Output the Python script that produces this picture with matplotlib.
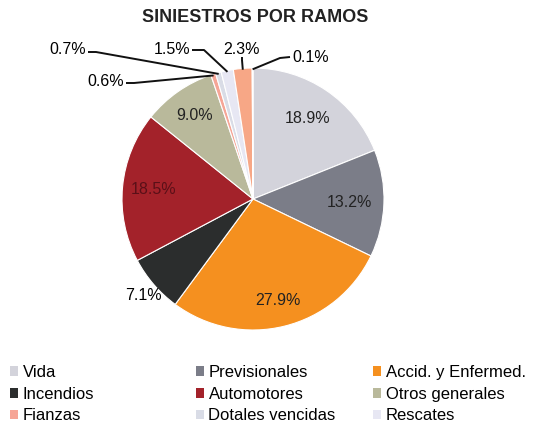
import matplotlib
matplotlib.use("Agg")
import matplotlib.pyplot as plt
from matplotlib.patches import Patch
import numpy as np

plt.rcParams['font.family'] = ['Liberation Sans', 'DejaVu Sans']

categories = ["Vida", "Previsionales", "Accid. y Enfermed.", "Incendios", "Automotores",
              "Otros generales", "Fianzas", "Dotales vencidas", "Rescates", "Otros", "Varios"]
values = [18.9, 13.2, 27.9, 7.1, 18.5, 9.0, 0.6, 0.7, 1.5, 2.3, 0.1]
colors = ["#d3d3db", "#7b7d88", "#f5901f", "#2b2d2d", "#a3222a", "#b9b99b",
          "#f6a596", "#d9dce6", "#e7e7f3", "#f7a786", "#a4a4ac"]
legend_count = 9

W, H = 534, 429
cx, cy, R = 253, 199, 131

fig = plt.figure(figsize=(W / 100, H / 100), dpi=100)
ax = fig.add_axes([(cx - R) / W, (H - cy - R) / H, 2 * R / W, 2 * R / H])

wedges, _ = ax.pie(values, colors=colors, startangle=90, counterclock=False,
                   wedgeprops=dict(edgecolor="white", linewidth=0.8), radius=1)
ax.set_xlim(-1, 1)
ax.set_ylim(-1, 1)
ax.set_aspect("equal")
ax.axis("off")


def px(x, y):
    # pixel position -> data coords of the pie axes
    return (x - cx) / R, (cy - y) / R


def mid_point(w, r=1.0):
    a = np.deg2rad((w.theta1 + w.theta2) / 2)
    return r * np.cos(a), r * np.sin(a)


# inside labels
inside = {0: 0.74, 1: 0.74, 2: 0.8, 4: 0.76, 5: 0.78}
for i, r in inside.items():
    x, y = mid_point(wedges[i], r)
    ax.text(x, y, f"{values[i]:.1f}%", ha="center", va="center", fontsize=11.5,
            color="#222222" if i != 4 else "#5a1018")

# 7.1% outside
x, y = px(143, 295)
ax.text(x, y, f"{values[3]:.1f}%", ha="center", va="center", fontsize=11.5)

# small slices with leader lines: (index, text pos px, ha, elbow px)
small = [
    (7, (86, 50), "right", (96, 52)),
    (6, (124, 82), "right", (134, 83)),
    (8, (190, 49), "right", (204, 50)),
    (9, (242, 49), "center", (242, 60)),
    (10, (292, 57), "left", (280, 58)),
]
for i, tpos, ha, elbow in small:
    tx, ty = px(*tpos)
    ax.text(tx, ty, f"{values[i]:.1f}%", ha=ha, va="center", fontsize=11.5)
    ex, ey = px(*elbow)
    wx, wy = mid_point(wedges[i], 0.99)
    if ha == "right":
        sx, sy = px(tpos[0] + 2, elbow[1])
    elif ha == "left":
        sx, sy = px(tpos[0] - 2, tpos[1])
    else:
        sx, sy = px(tpos[0], tpos[1] + 8)
    ax.plot([sx, ex, wx], [sy, ey, wy], color="#111111", lw=1.4, clip_on=False,
            solid_capstyle="butt")

fig.text(255 / W, 1 - 18 / H, "SINIESTROS POR RAMOS", ha="center", va="center",
         fontsize=13, fontweight="bold", color="#222222")

# legend in three columns
handles = [Patch(facecolor=colors[i], edgecolor="none") for i in range(legend_count)]
col_x = [10, 196, 373]
for c in range(3):
    idx = [c, c + 3, c + 6]
    fig.legend([handles[i] for i in idx], [categories[i] for i in idx],
               loc="upper left", bbox_to_anchor=(col_x[c] / W, 1 - 365 / H),
               frameon=False, fontsize=12, handlelength=0.5, handleheight=0.5,
               handletextpad=0.25, labelspacing=0.4, borderpad=0, borderaxespad=0)

fig.savefig("out.png", dpi=100)
